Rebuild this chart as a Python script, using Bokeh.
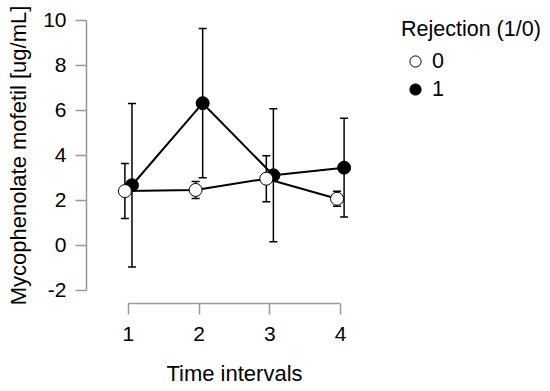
from bokeh.plotting import figure
from bokeh.models import (ColumnDataSource, Whisker, TeeHead, Legend, LegendItem,
                          Range1d, FixedTicker, PrintfTickFormatter)
from bokeh.embed import file_html
from bokeh.resources import INLINE

# ---- data ----
time_intervals = [1, 2, 3, 4]
mean_0 = [2.41, 2.46, 2.96, 2.07]
err_0 = [1.22, 0.38, 1.02, 0.33]
mean_1 = [2.67, 6.31, 3.11, 3.45]
err_1 = [3.63, 3.31, 2.95, 2.19]
group_labels = ["0", "1"]
legend_title = "Rejection (1/0)"
y_ticks = [-2, 0, 2, 4, 6, 8, 10]
x_ticks = [1, 2, 3, 4]

FONT = "Liberation Sans"
FS_TICK = "21px"
FS_TITLE = "22px"
FS_LEG = "21.5px"
dodge = 0.05


def make_source(means, errs, shift):
    return ColumnDataSource(dict(
        x=[t + shift for t in time_intervals],
        y=means,
        lower=[m - e for m, e in zip(means, errs)],
        upper=[m + e for m, e in zip(means, errs)],
    ))


src0 = make_source(mean_0, err_0, -dodge)
src1 = make_source(mean_1, err_1, dodge)

p = figure(frame_width=296, frame_height=296,
           min_border_left=86, min_border_right=160,
           min_border_top=7, min_border_bottom=80,
           x_range=Range1d(0.407, 4.593), y_range=Range1d(-2.577, 10.555),
           output_backend="svg", toolbar_location=None)

p.grid.visible = False
p.outline_line_color = None

for ax in (p.xaxis[0], p.yaxis[0]):
    ax.axis_line_color = "#999999"
    ax.axis_line_width = 1.5
    ax.major_tick_line_color = "#999999"
    ax.major_tick_line_width = 1.5
    ax.major_tick_out = 11
    ax.major_tick_in = 0
    ax.minor_tick_line_color = None
    ax.major_label_text_font = FONT
    ax.major_label_text_font_size = FS_TICK
    ax.major_label_text_color = "black"
    ax.axis_label_text_font = FONT
    ax.axis_label_text_font_size = FS_TITLE
    ax.axis_label_text_font_style = "normal"
    ax.axis_label_text_color = "black"

p.xaxis.ticker = FixedTicker(ticks=x_ticks)
p.yaxis.ticker = FixedTicker(ticks=y_ticks)
p.yaxis.formatter = PrintfTickFormatter(format="%d")
p.xaxis.formatter = PrintfTickFormatter(format="%d")
p.xaxis.bounds = (min(x_ticks), max(x_ticks))
p.yaxis.bounds = (min(y_ticks), max(y_ticks))
p.xaxis.axis_label = "Time intervals"
p.yaxis.axis_label = "Mycophenolate mofetil [ug/mL]"
p.xaxis.major_label_standoff = 12
p.yaxis.major_label_standoff = 9
p.xaxis.axis_label_standoff = 17
p.yaxis.axis_label_standoff = 9

# lines
p.line("x", "y", source=src0, line_color="black", line_width=2)
p.line("x", "y", source=src1, line_color="black", line_width=2)

# error bars
for src in (src1, src0):
    w = Whisker(source=src, base="x", upper="upper", lower="lower",
                line_color="black", line_width=1.5,
                upper_head=TeeHead(size=8, line_color="black", line_width=1.5),
                lower_head=TeeHead(size=8, line_color="black", line_width=1.5))
    p.add_layout(w)

r1 = p.scatter("x", "y", source=src1, size=13, marker="circle",
               fill_color="black", line_color="black", line_width=1)
r0 = p.scatter("x", "y", source=src0, size=13, marker="circle",
               fill_color="white", line_color="black", line_width=1)

legend = Legend(items=[LegendItem(label=group_labels[0], renderers=[r0]),
                       LegendItem(label=group_labels[1], renderers=[r1])],
                title=legend_title, location=(19, 200),
                padding=0, margin=0, border_line_color=None,
                background_fill_alpha=0,
                glyph_width=28, glyph_height=28, label_height=28,
                label_standoff=3, spacing=0, title_standoff=5,
                label_text_font=FONT, label_text_font_size=FS_LEG,
                title_text_font=FONT, title_text_font_size=FS_LEG,
                title_text_font_style="normal", label_text_color="black",
                title_text_color="black")
p.add_layout(legend, "right")

open("out.html", "w").write(file_html(p, INLINE))
